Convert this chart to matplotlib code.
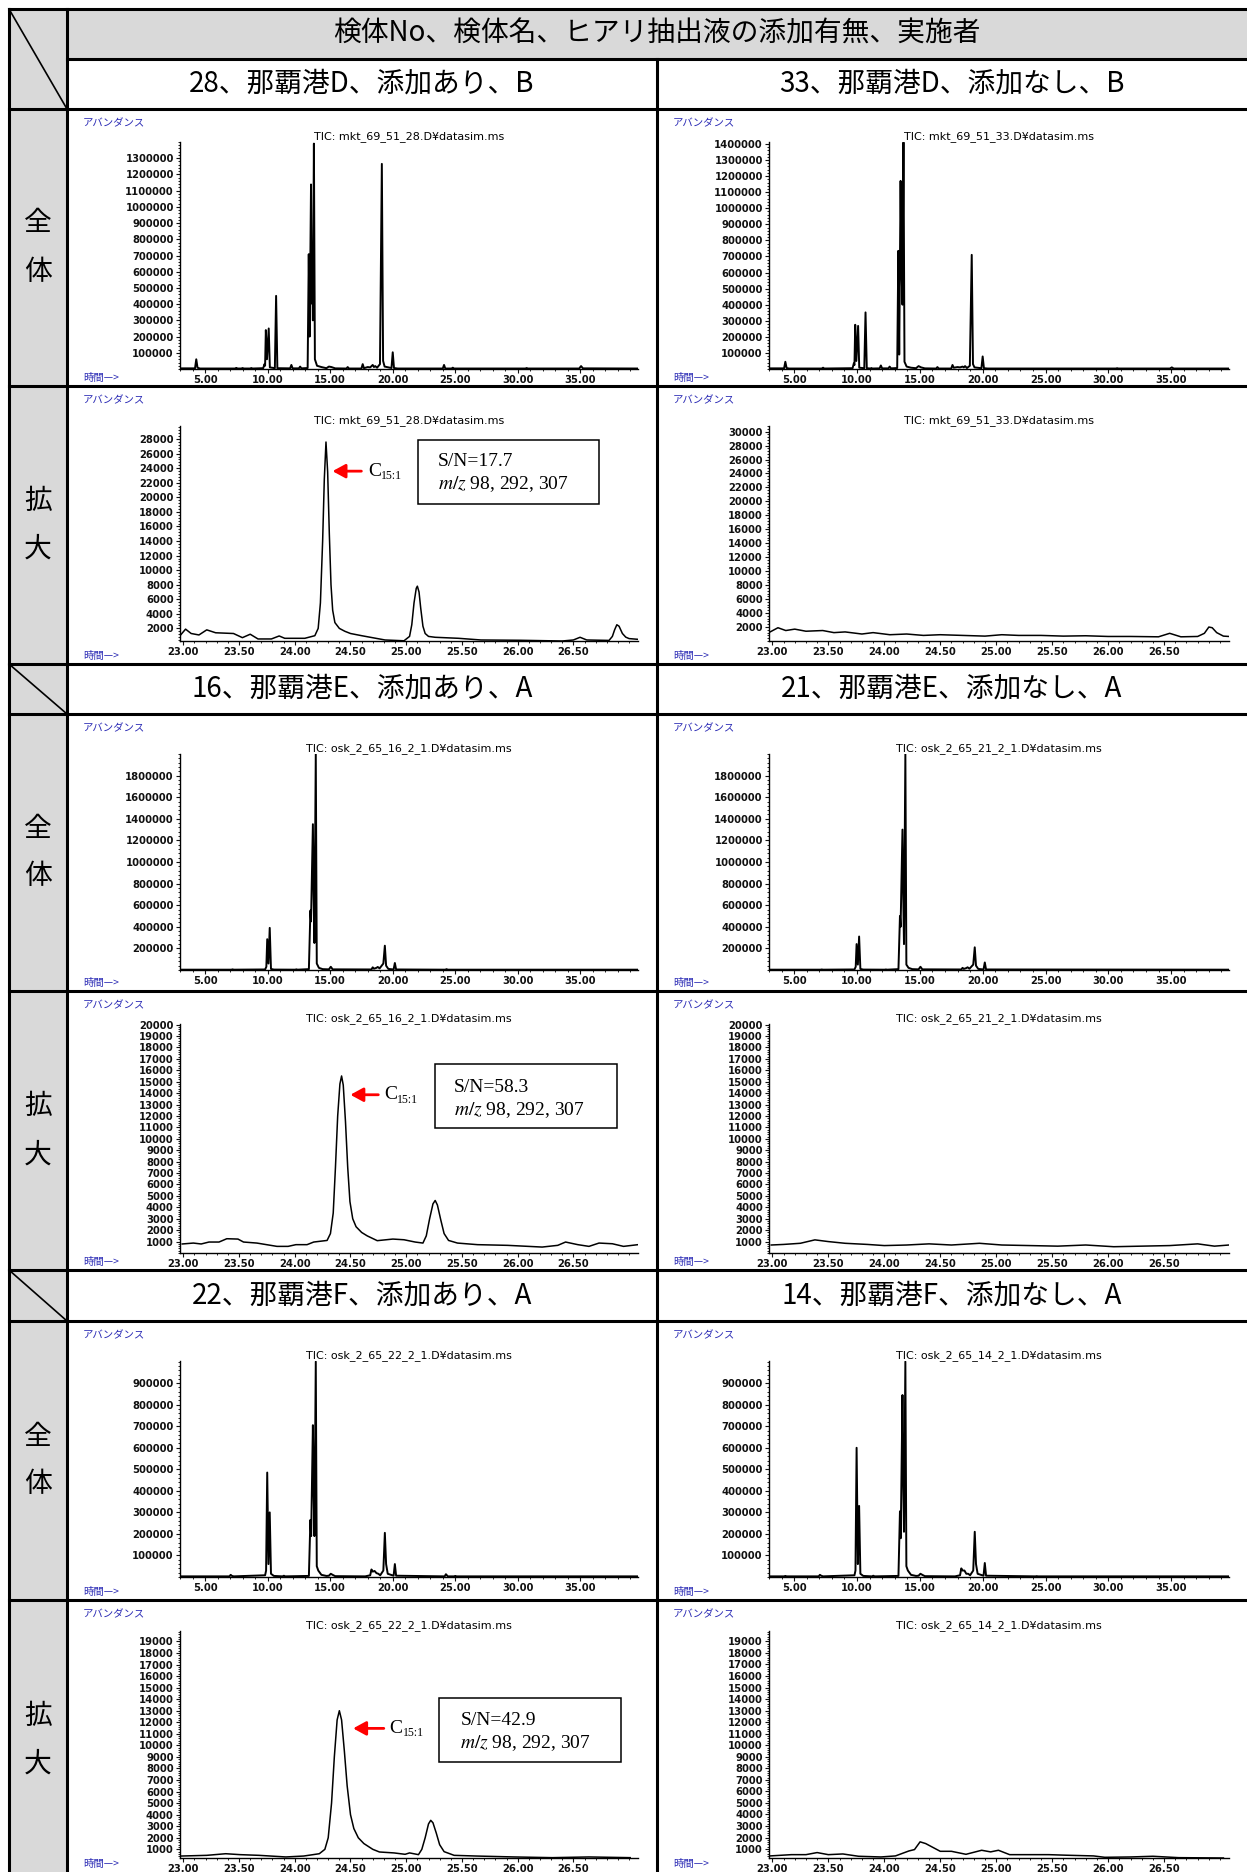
import matplotlib
matplotlib.use("Agg")
import matplotlib.pyplot as plt
from matplotlib.patches import Rectangle
from matplotlib.ticker import MultipleLocator

plt.rcParams['mathtext.fontset'] = 'stix'

W, H = 1247, 1872
JP = ['Noto Sans CJK JP', 'DejaVu Sans']
SERIF = ['Liberation Serif', 'DejaVu Serif']
BLUE = '#2b2bb5'
GRAY = '#d9d9d9'

# ---------------- text data ----------------
header_title = "検体No、検体名、ヒアリ抽出液の添加有無、実施者"
sample_labels = [["28、那覇港D、添加あり、B", "33、那覇港D、添加なし、B"],
                 ["16、那覇港E、添加あり、A", "21、那覇港E、添加なし、A"],
                 ["22、那覇港F、添加あり、A", "14、那覇港F、添加なし、A"]]
row_labels_full = ["全", "体"]
row_labels_zoom = ["拡", "大"]
tic_titles = [["TIC: mkt_69_51_28.D¥datasim.ms", "TIC: mkt_69_51_33.D¥datasim.ms"],
              ["TIC: osk_2_65_16_2_1.D¥datasim.ms", "TIC: osk_2_65_21_2_1.D¥datasim.ms"],
              ["TIC: osk_2_65_22_2_1.D¥datasim.ms", "TIC: osk_2_65_14_2_1.D¥datasim.ms"]]
sn_values = ["S/N=17.7", "S/N=58.3", "S/N=42.9"]
mz_label = "98, 292, 307"
peak_label = "C"
peak_sub = "15:1"

# ---------------- axis ticks ----------------
full_xticks = [5.0, 10.0, 15.0, 20.0, 25.0, 30.0, 35.0]
zoom_xticks = [23.0, 23.5, 24.0, 24.5, 25.0, 25.5, 26.0, 26.5]
yticks_28 = [100000 * i for i in range(1, 14)]
yticks_33 = [100000 * i for i in range(1, 15)]
yticks_16 = [200000 * i for i in range(1, 10)]
yticks_22 = [100000 * i for i in range(1, 10)]
zticks_28 = [2000 * i for i in range(1, 15)]
zticks_33 = [2000 * i for i in range(1, 16)]
zticks_16 = [1000 * i for i in range(1, 21)]
zticks_22 = [1000 * i for i in range(1, 20)]

# ---------------- chromatogram data (time [min], abundance) ----------------
full_28 = [(3.0, 4000), (4.2, 4000), (4.3, 60000), (4.4, 8000), (4.6, 3000),
           (7.4, 3000), (7.5, 7000), (7.6, 3000), (7.9, 3000), (8.0, 6000), (8.1, 3000),
           (8.6, 3000), (8.7, 6000), (8.8, 3000),
           (9.65, 5000), (9.75, 30000), (9.8, 20000), (9.86, 240000), (9.95, 60000),
           (10.09, 250000), (10.18, 10000), (10.58, 5000), (10.68, 451000), (10.78, 5000),
           (11.8, 4000), (11.9, 25000), (12.0, 4000), (12.5, 4000), (12.6, 15000), (12.7, 4000),
           (13.2, 6000), (13.29, 708000), (13.36, 200000), (13.47, 1138000), (13.53, 404000),
           (13.57, 580000), (13.62, 300000), (13.7, 1390000), (13.78, 60000), (13.95, 20000),
           (14.3, 12000), (14.7, 5000), (14.9, 15000), (15.1, 12000), (15.4, 4000),
           (16.3, 3000), (16.4, 12000), (16.5, 3000), (17.5, 3000), (17.6, 30000), (17.7, 5000),
           (18.0, 12000), (18.2, 10000), (18.4, 25000), (18.5, 12000), (18.6, 18000), (18.75, 8000),
           (18.98, 30000), (19.13, 1265000), (19.23, 50000), (19.35, 15000),
           (19.9, 6000), (20.0, 103000), (20.1, 6000), (20.4, 3000),
           (24.0, 3000), (24.1, 25000), (24.2, 3000), (24.7, 3000), (24.8, 8000), (24.9, 3000),
           (30.6, 3000), (30.7, 6000), (30.8, 3000), (34.9, 3000), (35.05, 18000), (35.2, 4000),
           (39.6, 3000)]
full_33 = [(3.0, 4000), (4.2, 4000), (4.3, 45000), (4.4, 6000), (4.6, 3000),
           (7.2, 3000), (7.3, 8000), (7.4, 3000),
           (9.65, 5000), (9.75, 35000), (9.8, 25000), (9.86, 275000), (9.95, 50000),
           (10.09, 268000), (10.18, 8000), (10.58, 5000), (10.68, 352000), (10.78, 5000),
           (11.1, 3000), (11.15, 6000), (11.2, 3000),
           (11.8, 4000), (11.9, 22000), (12.0, 4000), (12.5, 4000), (12.6, 15000), (12.7, 4000),
           (13.2, 6000), (13.29, 735000), (13.36, 90000), (13.47, 1170000), (13.54, 620000),
           (13.62, 400000), (13.7, 1410000), (13.78, 45000), (13.95, 15000), (14.3, 8000),
           (14.7, 5000), (14.9, 18000), (15.1, 10000), (15.4, 4000),
           (16.3, 3000), (16.4, 12000), (16.5, 3000), (17.5, 3000), (17.6, 25000), (17.7, 8000),
           (18.0, 12000), (18.2, 10000), (18.4, 15000), (18.5, 10000), (18.6, 18000), (18.75, 6000),
           (18.98, 20000), (19.13, 710000), (19.23, 30000), (19.35, 10000),
           (19.9, 5000), (20.0, 78000), (20.1, 5000), (20.4, 3000),
           (30.6, 3000), (30.7, 5000), (30.8, 3000), (34.9, 3000), (35.05, 10000), (35.2, 3000),
           (39.6, 3000)]
full_16 = [(3.0, 3000), (7.1, 3000), (7.2, 6000), (7.3, 3000),
           (9.8, 5000), (9.9, 30000), (9.97, 285000), (10.07, 60000), (10.17, 390000),
           (10.27, 10000), (10.5, 4000), (12.2, 3000), (12.3, 6000), (12.4, 3000),
           (13.3, 8000), (13.42, 550000), (13.47, 450000), (13.62, 1350000), (13.68, 700000),
           (13.74, 250000), (13.85, 2000000), (13.93, 60000), (14.1, 20000), (14.4, 8000),
           (14.9, 6000), (15.05, 30000), (15.2, 6000),
           (18.3, 5000), (18.4, 25000), (18.5, 12000), (18.7, 20000), (18.8, 28000), (18.95, 15000),
           (19.25, 60000), (19.37, 225000), (19.47, 40000), (19.65, 10000),
           (20.07, 5000), (20.17, 65000), (20.27, 5000),
           (24.2, 3000), (24.3, 8000), (24.4, 3000), (39.8, 3000)]
full_21 = [(3.0, 3000), (7.1, 3000), (7.2, 5000), (7.3, 3000),
           (9.8, 5000), (9.9, 30000), (9.97, 240000), (10.07, 50000), (10.17, 310000),
           (10.27, 10000), (10.5, 4000), (12.2, 3000), (12.3, 5000), (12.4, 3000),
           (13.3, 8000), (13.42, 500000), (13.47, 400000), (13.62, 1300000), (13.68, 700000),
           (13.74, 240000), (13.85, 2000000), (13.93, 50000), (14.1, 20000), (14.4, 8000),
           (14.9, 6000), (15.05, 30000), (15.2, 6000),
           (18.3, 5000), (18.4, 20000), (18.5, 10000), (18.7, 18000), (18.8, 25000), (18.95, 12000),
           (19.25, 50000), (19.37, 210000), (19.47, 40000), (19.65, 10000),
           (20.07, 5000), (20.17, 70000), (20.27, 5000), (39.8, 3000)]
full_22 = [(3.0, 3000), (6.95, 3000), (7.05, 10000), (7.15, 5000), (7.3, 3000),
           (9.8, 8000), (9.88, 30000), (9.97, 485000), (10.07, 60000), (10.17, 300000),
           (10.27, 15000), (10.5, 5000), (11.2, 3000), (11.3, 6000), (11.4, 3000),
           (13.3, 5000), (13.42, 265000), (13.48, 190000), (13.62, 705000), (13.68, 400000),
           (13.74, 190000), (13.85, 1000000), (13.93, 50000), (14.05, 30000), (14.3, 10000),
           (14.7, 5000), (14.9, 6000), (15.05, 15000), (15.2, 10000), (15.4, 4000),
           (17.8, 3000), (18.2, 8000), (18.3, 35000), (18.4, 25000), (18.55, 28000),
           (18.7, 18000), (18.85, 15000), (19.0, 8000),
           (19.25, 30000), (19.37, 205000), (19.47, 60000), (19.6, 15000),
           (20.07, 6000), (20.17, 60000), (20.27, 6000),
           (24.15, 3000), (24.25, 13000), (24.4, 3000), (24.9, 3000), (25.0, 5000), (25.1, 3000),
           (39.8, 3000)]
full_14 = [(3.0, 3000), (4.2, 3000), (4.3, 5000), (4.4, 3000),
           (6.95, 3000), (7.05, 10000), (7.15, 6000), (7.3, 3000),
           (9.8, 8000), (9.88, 30000), (9.97, 600000), (10.07, 60000), (10.17, 330000),
           (10.27, 15000), (10.5, 5000), (11.2, 3000), (11.3, 6000), (11.4, 3000),
           (13.3, 5000), (13.42, 305000), (13.48, 180000), (13.62, 845000), (13.68, 450000),
           (13.74, 210000), (13.85, 1000000), (13.93, 50000), (14.05, 30000), (14.3, 10000),
           (14.7, 5000), (14.9, 6000), (15.05, 15000), (15.2, 10000), (15.4, 4000),
           (17.8, 3000), (18.2, 8000), (18.3, 40000), (18.4, 30000), (18.55, 30000),
           (18.7, 15000), (18.85, 15000), (19.0, 8000),
           (19.25, 30000), (19.37, 210000), (19.47, 60000), (19.6, 15000),
           (20.07, 6000), (20.17, 65000), (20.27, 6000),
           (24.2, 3000), (24.3, 4000), (24.4, 3000), (39.8, 3000)]

zoom_28 = [(22.97, 1000), (23.02, 1900), (23.07, 1300), (23.14, 1100), (23.21, 1800),
           (23.29, 1400), (23.45, 1300), (23.53, 730), (23.60, 1200), (23.67, 550),
           (23.79, 550), (23.86, 960), (23.91, 640), (24.09, 640), (24.18, 1000),
           (24.21, 2000), (24.23, 5500), (24.25, 14000), (24.265, 22500), (24.28, 27600),
           (24.295, 23500), (24.31, 15000), (24.325, 8000), (24.34, 4500), (24.36, 2800),
           (24.40, 2000), (24.45, 1600), (24.50, 1300), (24.60, 1000), (24.81, 410),
           (24.98, 300), (25.03, 900), (25.05, 2500), (25.07, 5500), (25.09, 7500),
           (25.10, 7800), (25.115, 7000), (25.13, 4800), (25.15, 2300), (25.17, 1300),
           (25.20, 900), (25.26, 780), (25.47, 640), (25.67, 410), (26.02, 370), (26.40, 270),
           (26.50, 410), (26.56, 780), (26.62, 410), (26.82, 350), (26.85, 900), (26.87, 1800),
           (26.89, 2500), (26.91, 2300), (26.94, 1300), (26.97, 800), (27.0, 600),
           (27.08, 500)]
zoom_33 = [(22.98, 1300), (23.05, 1900), (23.12, 1500), (23.2, 1700), (23.3, 1400),
           (23.45, 1500), (23.55, 1200), (23.65, 1300), (23.8, 1000), (23.9, 1200),
           (24.05, 900), (24.2, 1000), (24.35, 800), (24.5, 900), (24.7, 800), (24.9, 700),
           (25.05, 900), (25.2, 800), (25.4, 800), (25.6, 700), (25.8, 750), (26.0, 650),
           (26.2, 650), (26.45, 600), (26.55, 1100), (26.65, 600), (26.8, 650), (26.86, 1100),
           (26.9, 2000), (26.93, 1900), (26.97, 1200), (27.03, 700), (27.08, 650)]
zoom_16 = [(22.99, 790), (23.09, 870), (23.16, 790), (23.23, 960), (23.32, 960),
           (23.39, 1250), (23.49, 1220), (23.54, 960), (23.66, 870), (23.84, 580),
           (23.94, 580), (24.01, 730), (24.11, 730), (24.17, 960), (24.29, 1100),
           (24.32, 1700), (24.345, 3500), (24.365, 7500), (24.385, 12000), (24.405, 14800),
           (24.42, 15500), (24.435, 14700), (24.455, 11500), (24.475, 7500), (24.495, 4500),
           (24.52, 3000), (24.55, 2300), (24.60, 1800), (24.65, 1500), (24.74, 1080),
           (24.88, 1220), (24.98, 1160), (25.08, 960), (25.15, 870), (25.18, 1500),
           (25.21, 3000), (25.24, 4300), (25.26, 4600), (25.28, 4200), (25.31, 2900),
           (25.34, 1700), (25.38, 1100), (25.46, 870), (25.64, 730),
           (25.91, 670), (26.22, 520), (26.36, 670), (26.43, 960), (26.54, 730),
           (26.64, 580), (26.73, 870), (26.85, 810), (26.95, 580), (27.08, 730)]
zoom_21 = [(22.99, 700), (23.1, 750), (23.25, 850), (23.38, 1150), (23.5, 1000),
           (23.65, 850), (23.85, 750), (24.0, 650), (24.2, 700), (24.4, 800), (24.6, 700),
           (24.85, 850), (25.05, 700), (25.3, 650), (25.55, 600), (25.8, 700), (26.05, 550),
           (26.3, 600), (26.55, 650), (26.8, 800), (26.95, 600), (27.08, 700)]
zoom_22 = [(22.98, 420), (23.21, 480), (23.38, 620), (23.51, 540), (23.68, 480),
           (23.92, 340), (24.08, 420), (24.22, 620), (24.27, 1000), (24.30, 2000),
           (24.33, 5000), (24.355, 9000), (24.38, 12200), (24.40, 13000), (24.42, 12200),
           (24.445, 9500), (24.47, 6500), (24.50, 4000), (24.53, 2800), (24.57, 2000),
           (24.62, 1500), (24.70, 1000), (24.76, 770), (24.89, 690), (24.99, 570),
           (25.03, 690), (25.11, 540), (25.14, 1000), (25.17, 2000), (25.20, 3200),
           (25.22, 3510), (25.24, 3300), (25.27, 2400), (25.30, 1400), (25.34, 800),
           (25.43, 480), (25.63, 420), (25.97, 340), (26.31, 280), (26.64, 340), (27.01, 280)]
zoom_14 = [(22.98, 410), (23.17, 520), (23.30, 520), (23.40, 700), (23.50, 520),
           (23.63, 580), (23.77, 380), (23.97, 320), (24.10, 410), (24.22, 840),
           (24.27, 960), (24.32, 1630), (24.37, 1480), (24.50, 810), (24.60, 810),
           (24.73, 550), (24.87, 900), (24.95, 760), (25.02, 900), (25.12, 520),
           (25.47, 520), (25.63, 470), (25.87, 410), (25.97, 290), (26.20, 320),
           (26.40, 380), (26.63, 260), (27.03, 230)]

# ---------------- figure & table ----------------
fig = plt.figure(figsize=(W / 100, H / 100), dpi=100)
ax0 = fig.add_axes([0, 0, 1, 1], zorder=0)
ax0.set_xlim(0, W)
ax0.set_ylim(H, 0)
ax0.axis('off')

XL, XS, XM, XR = 9, 67, 657, W
ax0.add_patch(Rectangle((XL, 9), XS - XL, H - 9, color=GRAY, lw=0))
ax0.add_patch(Rectangle((XS, 9), XR - XS, 50, color=GRAY, lw=0))

LW = 2.2
for y in [9, 109, 386, 664, 714, 991, 1270, 1321, 1600]:
    ax0.plot([XL, XR], [y, y], color='black', lw=LW, solid_capstyle='projecting')
ax0.plot([XS, XR], [59, 59], color='black', lw=LW)
ax0.plot([XL, XL], [9, H], color='black', lw=LW, solid_capstyle='projecting')
ax0.plot([XS, XS], [9, H], color='black', lw=LW)
ax0.plot([XM, XM], [59, H], color='black', lw=LW)
for (y0, y1) in [(9, 109), (664, 714), (1270, 1321)]:
    ax0.plot([XL, XS], [y0, y1], color='black', lw=1.2)

ax0.text((XS + XR) / 2, 34, header_title, ha='center', va='center', fontsize=20, family=JP)
label_rows = [(59, 109), (664, 714), (1270, 1321)]
col_centers = [(XS + XM) / 2, (XM + XR) / 2]
for b, (y0, y1) in enumerate(label_rows):
    for c in range(2):
        ax0.text(col_centers[c], (y0 + y1) / 2, sample_labels[b][c], ha='center', va='center',
                 fontsize=20, family=JP)

full_rows = [(109, 386), (714, 991), (1321, 1600)]
zoom_rows = [(386, 664), (991, 1270), (1600, 1872)]
for (y0, y1) in full_rows:
    cy = (y0 + y1) / 2
    ax0.text(38, cy - 24, row_labels_full[0], ha='center', va='center', fontsize=20, family=JP)
    ax0.text(38, cy + 24, row_labels_full[1], ha='center', va='center', fontsize=20, family=JP)
for i, (y0, y1) in enumerate(zoom_rows):
    cy = (y0 + y1) / 2 if i < 2 else 1740
    ax0.text(38, cy - 24, row_labels_zoom[0], ha='center', va='center', fontsize=20, family=JP)
    ax0.text(38, cy + 24, row_labels_zoom[1], ha='center', va='center', fontsize=20, family=JP)

cells_x = [(XS, XM), (XM, XR)]
for rows in (full_rows, zoom_rows):
    for (y0, y1) in rows:
        for (cx0, cx1) in cells_x:
            ax0.text(cx0 + 16, y0 + 14, "アバンダンス", ha='left', va='center', fontsize=7.5,
                     color=BLUE, family=JP)
            ax0.text(cx0 + 16, y1 - 8, "時間—>", ha='left', va='center', fontsize=7.5,
                     color=BLUE, family=JP)

# ---------------- chromatogram panels ----------------
AX_X = [(180, 638), (769, 1229)]


def panel(col, top, bottom, data, xlim, ylim, yticks, xticks, xminor, yminor, title, lw):
    l, r = AX_X[col]
    ax = fig.add_axes([l / W, 1 - bottom / H, (r - l) / W, (bottom - top) / H], zorder=2)
    ax.patch.set_alpha(0)
    t = [p[0] for p in data]
    v = [p[1] for p in data]
    ax.plot(t, v, color='black', lw=lw)
    ax.set_xlim(*xlim)
    ax.set_ylim(*ylim)
    for s in ['top', 'right']:
        ax.spines[s].set_visible(False)
    for s in ['left', 'bottom']:
        ax.spines[s].set_linewidth(1.0)
    ax.set_yticks(yticks, labels=[str(int(y)) for y in yticks])
    ax.set_xticks(xticks, labels=[f"{x:.2f}" for x in xticks])
    ax.xaxis.set_minor_locator(MultipleLocator(xminor))
    ax.yaxis.set_minor_locator(MultipleLocator(yminor))
    ax.tick_params(which='major', length=3, width=0.8, pad=1.5, colors='#111111')
    ax.tick_params(which='minor', length=1.6, width=0.6)
    for lab in ax.get_xticklabels() + ax.get_yticklabels():
        lab.set_fontsize(7.2)
        lab.set_fontweight('bold')
    ax.text(0.5, 1.0, title, transform=ax.transAxes, ha='center', va='bottom', fontsize=8)
    return ax


def annotate_peak(ax, box, sn_text, txt_x, txt_y, arrow):
    bx0, bx1, by0, by1 = box
    ax.add_patch(Rectangle((bx0, by0), bx1 - bx0, by1 - by0, transform=ax.transAxes,
                           fill=False, lw=1.1, edgecolor='black', clip_on=False))
    ax.text(txt_x, txt_y[0], sn_text, transform=ax.transAxes, ha='left', va='center',
            fontsize=14, family=SERIF)
    ax.text(txt_x, txt_y[1], r"$m/z$ " + mz_label, transform=ax.transAxes, ha='left',
            va='center', fontsize=14, family=SERIF)
    hx, tx, ay, cx = arrow
    ax.annotate('', xy=(hx, ay), xytext=(tx, ay), xycoords='axes fraction',
                arrowprops=dict(arrowstyle='-|>,head_length=0.55,head_width=0.3', color='red',
                                lw=2.0, mutation_scale=14, shrinkA=0, shrinkB=0))
    ax.annotate(peak_label, xy=(cx, ay), xycoords='axes fraction', ha='left', va='center',
                fontsize=14, family=SERIF)
    ax.annotate(peak_sub, xy=(cx, ay), xycoords='axes fraction', xytext=(9.5, -3.5),
                textcoords='offset points', ha='left', va='center', fontsize=8.5, family=SERIF)


FXL = (3.0, 39.6)
ZXL = (22.97, 27.08)
full_axes_y = [(142, 369), (754, 970), (1361, 1577)]
zoom_axes_y = [(426, 641), (1024, 1253), (1631, 1858)]

full_data = [[full_28, full_33], [full_16, full_21], [full_22, full_14]]
full_ylims = [[(0, 1400000), (0, 1412000)], [(0, 2000000), (0, 2000000)],
              [(0, 1003000), (0, 1003000)]]
full_ticks = [[yticks_28, yticks_33], [yticks_16, yticks_16], [yticks_22, yticks_22]]
full_minor = [[20000, 20000], [40000, 40000], [20000, 20000]]

zoom_data = [[zoom_28, zoom_33], [zoom_16, zoom_21], [zoom_22, zoom_14]]
zoom_ylims = [[(270, 29800), (0, 30800)], [(0, 20050), (0, 20050)],
              [(250, 19900), (230, 19900)]]
zoom_ticks = [[zticks_28, zticks_33], [zticks_16, zticks_16], [zticks_22, zticks_22]]
zoom_minor = [[400, 400], [200, 200], [200, 200]]

boxes = [(0.519, 0.914, 0.639, 0.937), (0.556, 0.954, 0.546, 0.825), (0.566, 0.962, 0.424, 0.707)]
text_x = [0.5625, 0.598, 0.612]
text_y = [(0.833, 0.728), (0.723, 0.626), (0.607, 0.504)]
arrows = [(0.333, 0.396, 0.79, 0.41), (0.372, 0.433, 0.691, 0.445), (0.378, 0.445, 0.571, 0.457)]

for b in range(3):
    for c in range(2):
        ft, fb = full_axes_y[b]
        panel(c, ft, fb, full_data[b][c], FXL, full_ylims[b][c], full_ticks[b][c],
              full_xticks, 1.0, full_minor[b][c], tic_titles[b][c], 1.4)
        zt, zb = zoom_axes_y[b]
        ax = panel(c, zt, zb, zoom_data[b][c], ZXL, zoom_ylims[b][c], zoom_ticks[b][c],
                   zoom_xticks, 0.1, zoom_minor[b][c], tic_titles[b][c], 1.1)
        if c == 0:
            annotate_peak(ax, boxes[b], sn_values[b], text_x[b], text_y[b], arrows[b])

fig.savefig("out.png", dpi=100)
